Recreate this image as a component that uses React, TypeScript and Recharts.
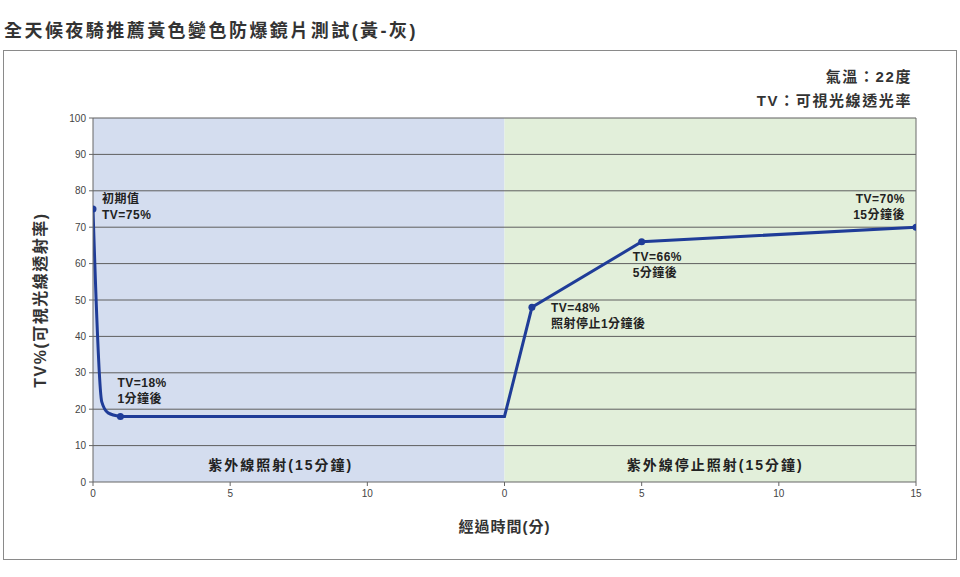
import {
  LineChart,
  Line,
  XAxis,
  YAxis,
  ReferenceArea,
  ReferenceLine,
  Label,
} from 'recharts';

// 0-15 = UV exposure, 15-30 = after UV stopped (ticks restart at 0)
const earlyTime = [0, 0.32, 0.55, 1];
const earlyTV = [75, 22, 19, 18];
const mainTime = [1, 15, 16, 20, 30];
const mainTV = [18, 18, 48, 66, 70];

const xTicks = [0, 5, 10, 15, 20, 25, 30];
const yTicks = [0, 10, 20, 30, 40, 50, 60, 70, 80, 90, 100];

const phaseNames = ['紫外線照射(15分鐘)', '紫外線停止照射(15分鐘)'];
const phaseBounds = [0, 15, 30];

// annotated points: time -> two text lines
const noteTimes = [0, 1, 16, 20, 30];
const noteLines = [
  ['初期值', 'TV=75%'],
  ['TV=18%', '1分鐘後'],
  ['TV=48%', '照射停止1分鐘後'],
  ['TV=66%', '5分鐘後'],
  ['TV=70%', '15分鐘後'],
];

const earlyData = earlyTime.map((t, i) => ({ t, tv: earlyTV[i] }));
const mainData = mainTime.map((t, i) => ({ t, tv: mainTV[i] }));

const FONT = '"Liberation Sans", Arial, "Noto Sans CJK TC", sans-serif';
const LINE = '#1f3c98';
const TEXT = '#333';

// where each note sits relative to its point
const noteOffset: Record<number, { dx: number; dy: number; anchor: 'start' | 'end' }> = {
  0: { dx: 9, dy: -9, anchor: 'start' },
  1: { dx: -3, dy: -33, anchor: 'start' },
  16: { dx: 19, dy: 2, anchor: 'start' },
  20: { dx: -9, dy: 16, anchor: 'start' },
  30: { dx: -11, dy: -27, anchor: 'end' },
};

function NoteDot(props: any) {
  const { cx, cy, payload } = props;
  const idx = noteTimes.indexOf(payload.t);
  if (idx < 0 || (payload.t === 1 && props.early)) return <g key={`e${props.index}`} />;
  const off = noteOffset[payload.t];
  return (
    <g key={`n${payload.t}`}>
      <circle cx={cx} cy={cy} r={3.5} fill={LINE} />
      {noteLines[idx].map((s, i) => (
        <text
          key={i}
          x={cx + off.dx}
          y={cy + off.dy + i * 16}
          textAnchor={off.anchor}
          dominantBaseline="middle"
          fontSize={12}
          letterSpacing={0.5}
          fontWeight={700}
          fill="#222"
          fontFamily={FONT}
        >
          {s}
        </text>
      ))}
    </g>
  );
}

function EarlyDot(props: any) {
  return <NoteDot {...props} early />;
}

function PhaseLabel(props: any) {
  const { viewBox, value, shift } = props;
  const { x, y, width, height } = viewBox;
  return (
    <text
      x={x + width / 2 + shift}
      y={y + height - 16}
      textAnchor="middle"
      dominantBaseline="middle"
      fontSize={14}
      letterSpacing={2}
      fontWeight={700}
      fill="#222"
      fontFamily={FONT}
    >
      {value}
    </text>
  );
}

export default function App() {
  return (
    <div style={{ position: 'absolute', left: 0, top: 0, width: 960, height: 577, background: '#fff', fontFamily: FONT }}>
      <div
        style={{
          position: 'absolute',
          left: 4,
          top: 16,
          fontSize: 18,
          fontWeight: 700,
          letterSpacing: 2.45,
          color: TEXT,
          fontFamily: FONT,
        }}
      >
        全天候夜騎推薦黃色變色防爆鏡片測試(黃-灰)
      </div>
      <div
        style={{
          position: 'absolute',
          left: 3,
          top: 50,
          width: 952,
          height: 508,
          border: '1.5px solid #8a8a8a',
        }}
      />
      <div
        style={{
          position: 'absolute',
          right: 48,
          top: 65,
          textAlign: 'right',
          fontSize: 15,
          fontWeight: 700,
          lineHeight: '24px',
          color: TEXT,
          letterSpacing: 1.6,
        }}
      >
        <div>氣溫：22度</div>
        <div>TV：可視光線透光率</div>
      </div>
      <div style={{ position: 'absolute', left: 0, top: 0 }}>
        <LineChart width={960} height={577} margin={{ top: 118, right: 44, bottom: 65, left: 63 }}>
          {phaseNames.map((name, i) => (
            <ReferenceArea
              key={name}
              x1={phaseBounds[i]}
              x2={phaseBounds[i + 1]}
              y1={0}
              y2={100}
              fill={i === 0 ? '#d4ddef' : '#e2efda'}
              fillOpacity={1}
              stroke="none"
              label={<PhaseLabel value={name} shift={i === 0 ? -18 : 5} />}
            />
          ))}
          {yTicks.slice(1).map((v) => (
            <ReferenceLine key={`g${v}`} y={v} stroke="#5e5e5e" strokeWidth={1} />
          ))}
          <ReferenceLine x={30} stroke="#6a6a6a" strokeWidth={1} />
          <XAxis
            dataKey="t"
            type="number"
            domain={[0, 30]}
            ticks={xTicks}
            tickFormatter={(v: number) => String(v < 15 ? v : v - 15)}
            allowDataOverflow
            height={30}
            stroke="#666"
            tickSize={4}
            tick={{ fill: '#444', fontSize: 10, fontFamily: FONT }}
            tickMargin={4}
          >
            <Label value="經過時間(分)" position="insideBottom" offset={-20} fill={TEXT} fontSize={15} fontWeight={700} fontFamily={FONT} letterSpacing={1} />
          </XAxis>
          <YAxis
            type="number"
            domain={[0, 100]}
            ticks={yTicks}
            width={30}
            stroke="#666"
            tickSize={4}
            tick={{ fill: '#444', fontSize: 10, fontFamily: FONT }}
            tickMargin={3}
          >
            <Label
              value="TV%(可視光線透射率)"
              angle={-90}
              position="center"
              dx={-38}
              fill={TEXT}
              fontSize={16}
              fontWeight={700}
              fontFamily={FONT}
              letterSpacing={1.5}
            />
          </YAxis>
          <Line
            data={earlyData}
            dataKey="tv"
            type="monotone"
            stroke={LINE}
            strokeWidth={3}
            dot={<EarlyDot />}
            activeDot={false}
            isAnimationActive={false}
          />
          <Line
            data={mainData}
            dataKey="tv"
            type="linear"
            stroke={LINE}
            strokeWidth={3}
            dot={<NoteDot />}
            activeDot={false}
            isAnimationActive={false}
          />
        </LineChart>
      </div>
    </div>
  );
}
